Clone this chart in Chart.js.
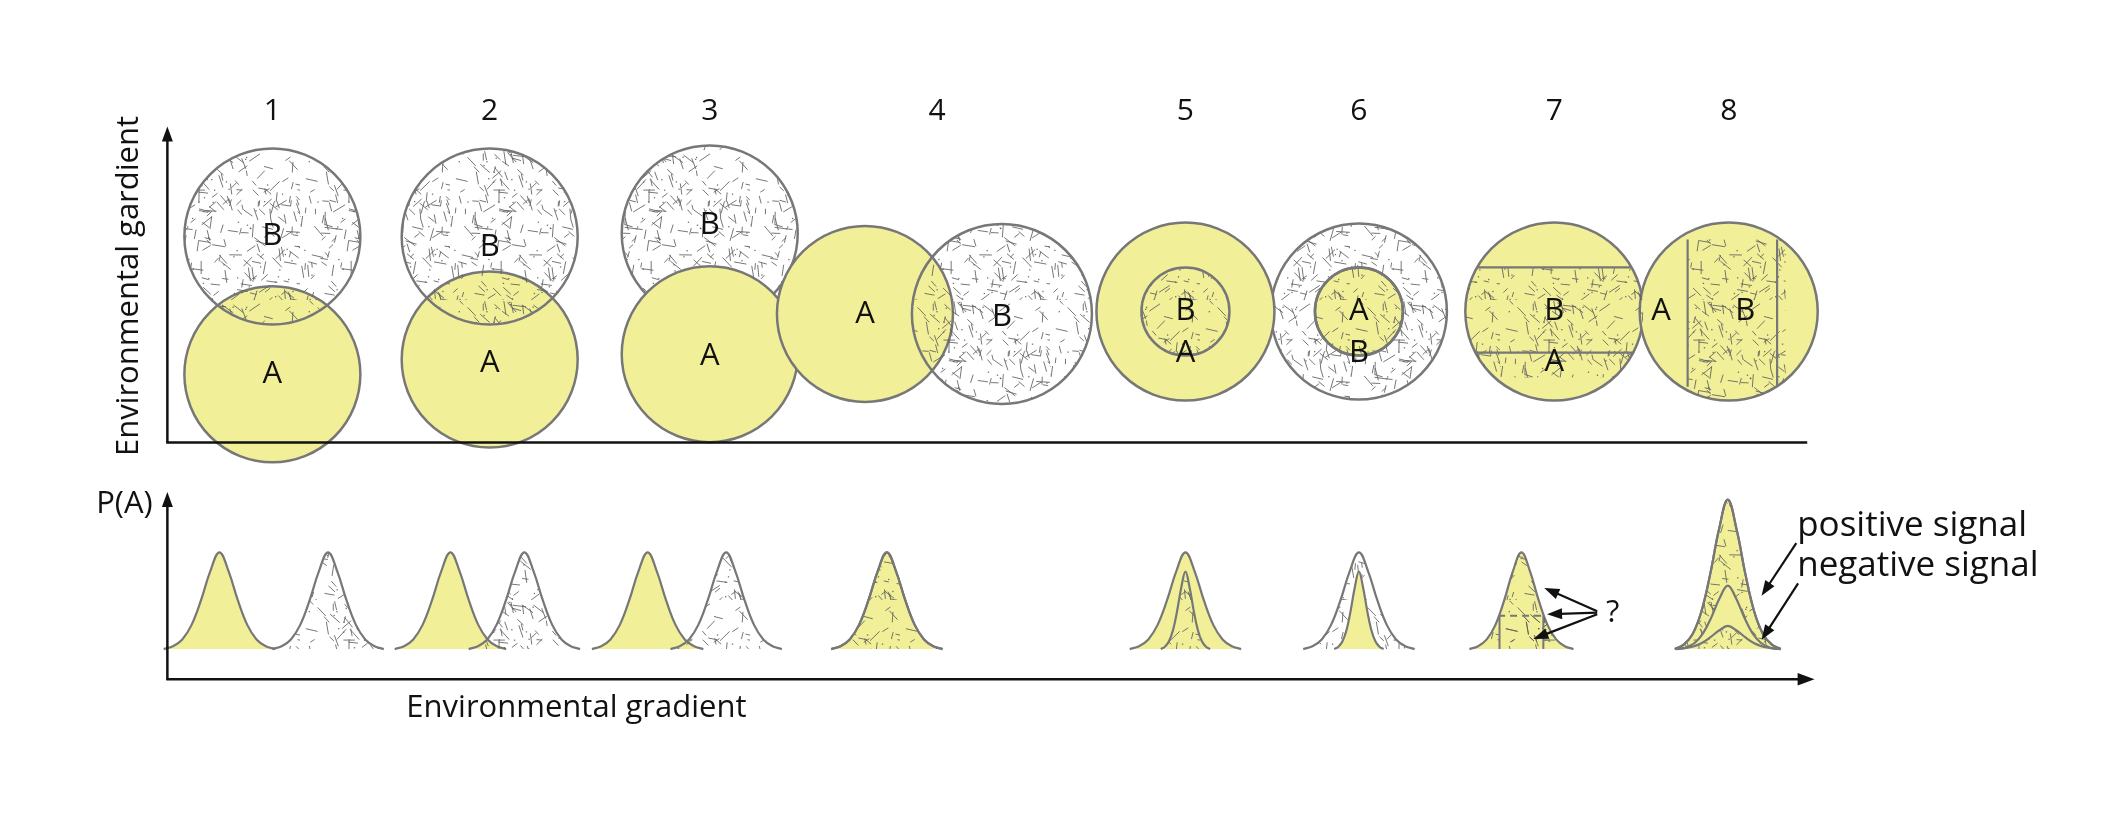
<!DOCTYPE html>
<html>
<head>
<meta charset="utf-8">
<script src="https://cdn.jsdelivr.net/npm/chart.js@4.4.1/dist/chart.umd.min.js"></script>
<style>
  html, body { margin: 0; padding: 0; background: #fff; }
  canvas { display: block; }
</style>
</head>
<body>
<canvas id="chart" width="2128" height="819"></canvas>
<script>
// --- diagram data (units = picture pixels) ---
const columnLabels = ['1', '2', '3', '4', '5', '6', '7', '8'];
const columnX = [197, 435, 676, 925, 1197, 1387, 1601, 1792];

// top panel: niches as circles
const hatchBaseCircles = [{ x: 676, y: 182, r: 88 }, { x: 1387, y: 283, r: 88 }];
const yellowCircles = [
  { x: 197, y: 364, r: 88 }, { x: 435, y: 345, r: 88 }, { x: 676, y: 338, r: 88 },
  { x: 846, y: 286, r: 88 }, { x: 1197, y: 283, r: 89 }, { x: 1387, y: 283, r: 44 },
  { x: 1601, y: 283, r: 89 }, { x: 1792, y: 283, r: 89 }
];
const hatchTopCircles = [
  { x: 197, y: 186, r: 88 }, { x: 435, y: 186, r: 88 }, { x: 996, y: 286, r: 90 },
  { x: 1197, y: 283, r: 44 }, { x: 1387, y: 283, r: 44 }
];
const circleLetters = [
  ['B', 197, 186], ['A', 197, 364], ['B', 435, 200], ['A', 435, 350], ['B', 676, 172], ['A', 676, 340],
  ['A', 846, 286], ['B', 996, 290], ['B', 1197, 283], ['A', 1197, 337], ['A', 1387, 283], ['B', 1387, 337],
  ['B', 1601, 283], ['A', 1601, 348], ['A', 1718, 283], ['B', 1810, 283]
];

// bottom panel: P(A) response curves
const baseline = 719;
const curveProfile = [0, 0.03, 0.1, 0.25, 0.5, 0.8, 1, 0.8, 0.5, 0.25, 0.1, 0.03, 0];
const curveCenter = [139, 258, 392, 473, 608, 694, 870, 870, 1197, 1197, 1387, 1387, 1565, 1791, 1791, 1791, 1791];
const curveHalfWidth = [61, 61, 61, 61, 61, 61, 61, 61, 61, 27, 61, 27, 57, 58, 58, 54, 58];
const curveHeight = [125, 125, 125, 125, 125, 125, 125, 125, 125, 100, 125, 100, 125, 193, 193, 82, 30];
const curveFill = ['y', 'h', 'y', 'h', 'y', 'h', 'y', 'h', 'y', 'h', 'h', 'y', 'y', 'y', 'h', 'y', 'h'];

// hatch texture
function makeHatch() {
  const c = document.createElement('canvas');
  c.width = 150; c.height = 150;
  const g = c.getContext('2d');
  let s = 12345;
  const rnd = () => { s = (s * 16807) % 2147483647; return s / 2147483647; };
  g.strokeStyle = 'rgba(95,95,95,0.85)';
  g.lineWidth = 1;
  for (let i = 0; i < 230; i++) {
    const x = rnd() * 150, y = rnd() * 150;
    const a = [0, 0.6, 1.2, 1.57, 2.3][Math.floor(rnd() * 5)] + rnd() * 0.3;
    const l = 5 + rnd() * 9;
    g.beginPath();
    g.moveTo(x, y);
    g.lineTo(x + Math.cos(a) * l, y + Math.sin(a) * l);
    g.stroke();
  }
  g.fillStyle = 'rgba(80,80,80,0.8)';
  for (let i = 0; i < 60; i++) g.fillRect(rnd() * 150, rnd() * 150, 1.3, 1.3);
  return document.getElementById('chart').getContext('2d').createPattern(c, 'repeat');
}

const YELLOW = '#f1ef98';
const EDGE = '#777777';
const hatch = makeHatch();

function curvePoints(i) {
  const n = curveProfile.length - 1;
  return curveProfile.map((v, k) => ({
    x: curveCenter[i] + curveHalfWidth[i] * (2 * k / n - 1),
    y: baseline - curveHeight[i] * v
  }));
}

function circleSet(list, fill, order) {
  return {
    type: 'scatter', data: list.map((c) => ({ x: c.x, y: c.y })), showLine: false,
    pointRadius: list.map((c) => c.r), pointStyle: 'circle',
    pointBackgroundColor: fill, pointBorderColor: EDGE, pointBorderWidth: 2.5, order
  };
}

const datasets = [];
datasets.push(circleSet(hatchBaseCircles, hatch, 30));
datasets.push(circleSet(yellowCircles, YELLOW, 29));
datasets.push(circleSet(hatchTopCircles, hatch, 28));
curveCenter.forEach((c, i) => {
  datasets.push({
    type: 'line', data: curvePoints(i), tension: 0.4, pointRadius: 0,
    borderColor: EDGE, borderWidth: 2.2,
    backgroundColor: curveFill[i] === 'y' ? YELLOW : hatch,
    fill: { value: baseline }, order: 20 - i
  });
});

function arrow(ctx, x1, y1, x2, y2, head) {
  const a = Math.atan2(y2 - y1, x2 - x1);
  ctx.beginPath();
  ctx.moveTo(x1, y1);
  ctx.lineTo(x2 - Math.cos(a) * head * 0.8, y2 - Math.sin(a) * head * 0.8);
  ctx.stroke();
  ctx.beginPath();
  ctx.moveTo(x2, y2);
  ctx.lineTo(x2 - Math.cos(a - 0.35) * head, y2 - Math.sin(a - 0.35) * head);
  ctx.lineTo(x2 - Math.cos(a + 0.35) * head, y2 - Math.sin(a + 0.35) * head);
  ctx.closePath();
  ctx.fill();
}

const overlay = {
  id: 'overlay',
  afterDatasetsDraw(chart) {
    const ctx = chart.ctx;
    const X = (v) => chart.scales.x.getPixelForValue(v);
    const Y = (v) => chart.scales.y.getPixelForValue(v);
    ctx.save();

    // circle 7: hatched rectangle inside circle
    ctx.save();
    ctx.beginPath(); ctx.arc(X(1601), Y(283), 89, 0, Math.PI * 2); ctx.clip();
    ctx.fillStyle = hatch; ctx.fillRect(X(1500), Y(226), 210, 110);
    ctx.strokeStyle = EDGE; ctx.lineWidth = 2.2;
    ctx.beginPath(); ctx.moveTo(X(1500), Y(226)); ctx.lineTo(X(1710), Y(226));
    ctx.moveTo(X(1500), Y(336)); ctx.lineTo(X(1710), Y(336)); ctx.stroke();
    ctx.restore();

    // circle 8: hatched vertical band
    ctx.save();
    ctx.beginPath(); ctx.arc(X(1792), Y(283), 89, 0, Math.PI * 2); ctx.clip();
    ctx.fillStyle = hatch; ctx.fillRect(X(1747), Y(190), 98, 190);
    ctx.strokeStyle = EDGE; ctx.lineWidth = 2.2;
    ctx.beginPath(); ctx.moveTo(X(1747), Y(190)); ctx.lineTo(X(1747), Y(380));
    ctx.moveTo(X(1845), Y(190)); ctx.lineTo(X(1845), Y(380)); ctx.stroke();
    ctx.restore();

    // curve 7: hatch above dashed level and inside central band
    const meta = chart.getDatasetMeta(3 + 12);
    ctx.save();
    ctx.beginPath(); meta.dataset.path(ctx); ctx.closePath(); ctx.clip();
    ctx.fillStyle = hatch;
    ctx.fillRect(X(1500), Y(560), 140, 676 - 560);
    ctx.fillRect(X(1541), Y(676), 48, baseline - 676);
    ctx.strokeStyle = EDGE; ctx.lineWidth = 2;
    ctx.beginPath(); ctx.moveTo(X(1541), Y(676)); ctx.lineTo(X(1541), Y(baseline));
    ctx.moveTo(X(1589), Y(676)); ctx.lineTo(X(1589), Y(baseline)); ctx.stroke();
    ctx.setLineDash([7, 5]);
    ctx.beginPath(); ctx.moveTo(X(1500), Y(676)); ctx.lineTo(X(1640), Y(676)); ctx.stroke();
    ctx.restore();

    // axes
    ctx.strokeStyle = '#111'; ctx.fillStyle = '#111'; ctx.lineWidth = 2.5;
    arrow(ctx, X(82), Y(453), X(82), Y(44), 16);
    ctx.beginPath(); ctx.moveTo(X(81), Y(452)); ctx.lineTo(X(1878), Y(452)); ctx.stroke();
    arrow(ctx, X(82), Y(759), X(82), Y(516), 16);
    arrow(ctx, X(81), Y(758), X(1886), Y(758), 18);

    // question-mark and signal arrows
    ctx.lineWidth = 2.2;
    arrow(ctx, X(1648), Y(670), X(1590), Y(640), 16);
    arrow(ctx, X(1648), Y(672), X(1593), Y(674), 16);
    arrow(ctx, X(1648), Y(674), X(1578), Y(706), 16);
    arrow(ctx, X(1866), Y(582), X(1828), Y(650), 16);
    arrow(ctx, X(1868), Y(634), X(1828), Y(707), 16);

    // text
    ctx.textAlign = 'center'; ctx.textBaseline = 'middle';
    ctx.font = '30px "Open Sans", "Noto Sans", sans-serif';
    columnLabels.forEach((t, i) => ctx.fillText(t, X(columnX[i]), Y(24)));
    ctx.font = '31px "Open Sans", "Noto Sans", sans-serif';
    circleLetters.forEach(([t, x, y]) => ctx.fillText(t, X(x), Y(y)));
    ctx.fillText('?', X(1665), Y(672));
    ctx.fillText('Environmental gradient', X(530), Y(795));
    ctx.textAlign = 'left';
    ctx.fillText('P(A)', X(4), Y(532));
    ctx.font = '35px "Open Sans", "Noto Sans", sans-serif';
    ctx.fillText('positive signal', X(1867), Y(560));
    ctx.fillText('negative signal', X(1867), Y(612));
    ctx.save();
    ctx.translate(X(40), Y(250));
    ctx.rotate(-Math.PI / 2);
    ctx.textAlign = 'center';
    ctx.font = '31px "Open Sans", "Noto Sans", sans-serif';
    ctx.fillText('Environmental gardient', 0, 0);
    ctx.restore();

    ctx.restore();
  }
};

new Chart(document.getElementById('chart'), {
  data: { datasets },
  options: {
    responsive: false,
    devicePixelRatio: 1,
    animation: false,
    events: [],
    layout: { padding: 0 },
    plugins: { legend: { display: false }, tooltip: { enabled: false } },
    scales: {
      x: { type: 'linear', min: 0, max: 2128, display: false },
      y: { type: 'linear', min: 0, max: 819, reverse: true, display: false }
    }
  },
  plugins: [overlay]
});
</script>
</body>
</html>
